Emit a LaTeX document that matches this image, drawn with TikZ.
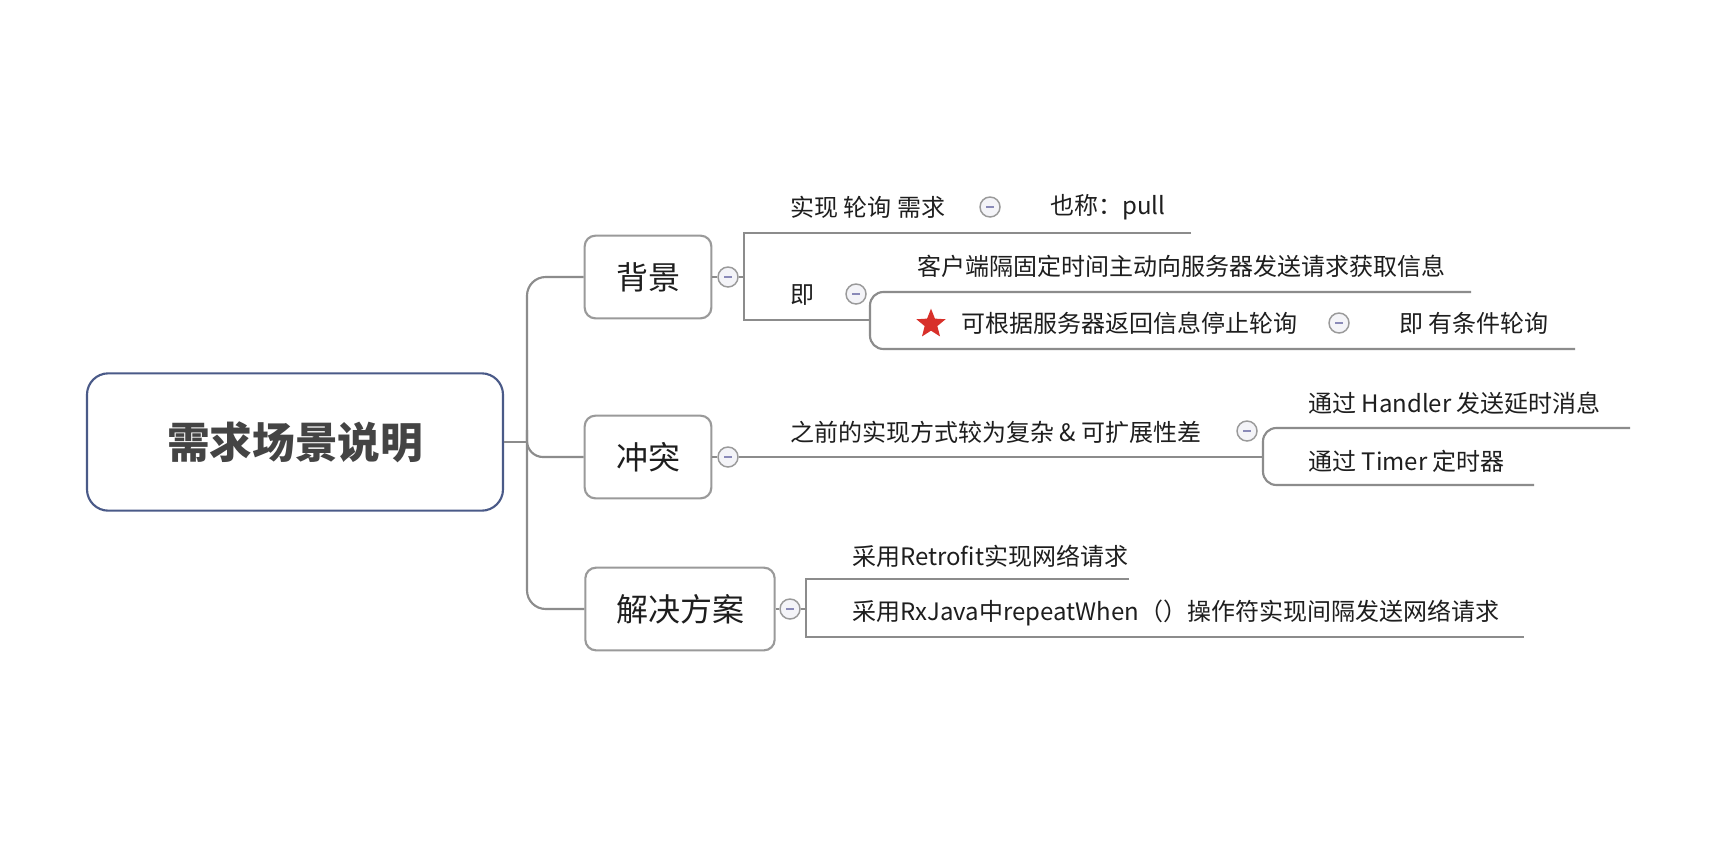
\documentclass[tikz,border=0pt]{standalone}
\usepackage{fontspec}
\setmainfont{Noto Sans CJK SC}
\usetikzlibrary{shapes.geometric}
\definecolor{lineg}{HTML}{8C8C8C}
\definecolor{boxg}{HTML}{9A9A9A}
\definecolor{rootb}{HTML}{4A5A88}
\definecolor{txt}{HTML}{1E1E1E}
\definecolor{roottxt}{HTML}{444444}
\definecolor{foldg}{HTML}{9A9A9A}
\definecolor{foldf}{HTML}{F4F4F8}
\definecolor{foldm}{HTML}{8A8AB8}
\definecolor{starred}{HTML}{D8302A}
\begin{document}
\begin{tikzpicture}[x=0.75pt,y=-0.75pt,
 conn/.style={draw=lineg, line width=1.6pt},
 topic/.style={draw=boxg, line width=1.6pt, rounded corners=8pt, fill=white, text=txt,
   font=\fontsize{24}{28}\selectfont, minimum height=62pt, inner sep=0pt},
 leaf/.style={anchor=west, inner sep=0pt, text=txt, font=\fontsize{18}{22}\selectfont},
 fold/.style={circle, draw=foldg, line width=1.1pt, fill=foldf, minimum size=15pt, inner sep=0pt,
   path picture={\draw[draw=foldm, line width=1.3pt] ([xshift=-3pt]path picture bounding box.center) -- ([xshift=3pt]path picture bounding box.center);}}]
\useasboundingbox[fill=white] (0,0) rectangle (1712,846);

% root
\node[draw=rootb, line width=1.6pt, rounded corners=16pt, minimum width=312pt, minimum height=103pt,
  text=roottxt, font=\fontsize{32}{38}\selectfont\bfseries] (root) at (295,442) {需求场景说明};

% topics
\node[topic, minimum width=95pt] (bg) at (648,277) {背景};
\node[topic, minimum width=95pt] (ct) at (648,457) {冲突};
\node[topic, minimum width=142pt] (sol) at (680,609) {解决方案};

% trunk
\coordinate (tm) at (527,442);
\coordinate (tt) at (527,277);
\coordinate (tb) at (527,609);
\draw[conn] (root.east) -- (tm);
\draw[conn, rounded corners=14] (bg.west) -- (tt) -- (tb) -- (sol.west);
\draw[conn, rounded corners=12] (527,430) -- (527,457) -- (ct.west);

% fold markers of topics
\node[fold] (f1) at (728,277) {};
\node[fold] (f2) at (728,457) {};
\node[fold] (f3) at (790,609) {};
\draw[conn] (bg.east) -- (f1.west);
\draw[conn] (ct.east) -- (f2.west);
\draw[conn] (sol.east) -- (f3.west);

% ---- 背景 branch
\coordinate (b1) at (744,277);
\coordinate (b1t) at (744,233);
\coordinate (b1b) at (744,320);
\coordinate (b1te) at (1191,233);
\coordinate (s1t) at (870,292);
\coordinate (s1b) at (870,349);
\coordinate (s1b0) at (870,320);
\coordinate (s1te) at (1471,292);
\coordinate (s1be) at (1575,349);
\draw[conn] (f1.east) -- (b1);
\draw[conn] (b1te) -- (b1t) -- (b1b) -- (s1b0);
\draw[conn, rounded corners=10] (s1te) -- (s1t) -- (s1b) -- (s1be);

\node[leaf] (l1) at (790,207) {实现 轮询 需求};
\node[fold] (f4) at (990,207) {};
\node[leaf] (l1a) at (1050,207) {也称：pull};
\node[leaf] (l2) at (790,295) {即};
\node[fold] (f5) at (856,294) {};
\node[leaf] (l2a) at (917,266) {客户端隔固定时间主动向服务器发送请求获取信息};
\node[star, star points=5, star point ratio=2.3, fill=starred, minimum size=23pt, inner sep=0pt] (st) at (931,324) {};
\node[leaf] (l2b) at (961,323) {可根据服务器返回信息停止轮询};
\node[fold] (f6) at (1339,323) {};
\node[leaf] (l2c) at (1399,323) {即 有条件轮询};

% ---- 冲突 branch
\coordinate (b2) at (1263,457);
\coordinate (b2t) at (1263,428);
\coordinate (b2b) at (1263,485);
\coordinate (b2te) at (1630,428);
\coordinate (b2be) at (1534,485);
\draw[conn] (f2.east) -- (b2);
\draw[conn, rounded corners=10] (b2te) -- (b2t) -- (b2b) -- (b2be);
\node[leaf] (l3) at (790,432) {之前的实现方式较为复杂 \& 可扩展性差};
\node[fold] (f7) at (1247,431) {};
\node[leaf] (l3a) at (1308,403) {通过 Handler 发送延时消息};
\node[leaf] (l3b) at (1308,461) {通过 Timer 定时器};

% ---- 解决方案 branch
\coordinate (b3) at (806,609);
\coordinate (b3t) at (806,579);
\coordinate (b3b) at (806,637);
\coordinate (b3te) at (1129,579);
\coordinate (b3be) at (1524,637);
\draw[conn] (f3.east) -- (b3);
\draw[conn] (b3te) -- (b3t) -- (b3b) -- (b3be);
\node[leaf] (l4a) at (852,556) {采用Retrofit实现网络请求};
\node[leaf] (l4b) at (852,613) {采用RxJava中repeatWhen（）操作符实现间隔发送网络请求};
\end{tikzpicture}
\end{document}
